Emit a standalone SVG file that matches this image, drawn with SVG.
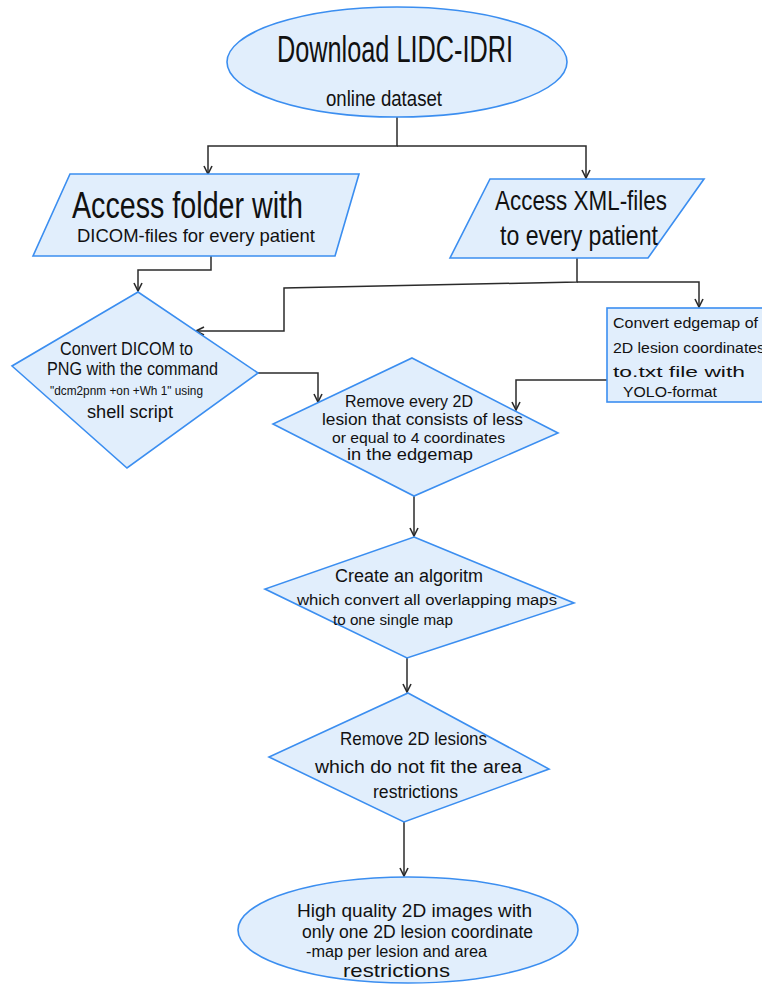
<svg xmlns="http://www.w3.org/2000/svg" width="762" height="985" viewBox="0 0 762 985">
  <style>
    .shape { fill: #e1eefc; stroke: #3b8ef0; stroke-width: 1.6; }
    .wire { fill: none; stroke: #2b2b2b; stroke-width: 1.5; }
    .lbl { font-family: "Liberation Sans", "DejaVu Sans", sans-serif; fill: #111; }
  </style>
  <defs>
    <marker id="arrow" viewBox="0 0 10 10" refX="9" refY="5" markerWidth="10" markerHeight="10" markerUnits="userSpaceOnUse" orient="auto">
      <path d="M1,1 L9,5 L1,9" fill="none" stroke="#2b2b2b" stroke-width="1.6"/>
    </marker>
  </defs>

  <rect width="762" height="985" fill="#ffffff"/>

  <!-- connectors -->
  <g id="connectors" class="wire">
    <path d="M397,117 V146 H208 V174" marker-end="url(#arrow)"/>
    <path d="M397,146 H586 V178" marker-end="url(#arrow)"/>
    <path d="M211,256 V270 H138 V291" marker-end="url(#arrow)"/>
    <path d="M577,258 V282 L284,288 V331 H196" marker-end="url(#arrow)"/>
    <path d="M577,282 H699 V307" marker-end="url(#arrow)"/>
    <path d="M258,373 H318 V402" marker-end="url(#arrow)"/>
    <path d="M607,380 H516 V410" marker-end="url(#arrow)"/>
    <path d="M414,496 V536" marker-end="url(#arrow)"/>
    <path d="M407,658 V692" marker-end="url(#arrow)"/>
    <path d="M404,822 V876" marker-end="url(#arrow)"/>
  </g>

  <!-- start: download dataset -->
  <g id="download">
    <ellipse class="shape" cx="397" cy="62" rx="170" ry="55"/>
    <text class="lbl" x="277" y="62" font-size="36" textLength="236" lengthAdjust="spacingAndGlyphs">Download LIDC-IDRI</text>
    <text class="lbl" x="326" y="106" font-size="22" textLength="116" lengthAdjust="spacingAndGlyphs">online dataset</text>
  </g>

  <!-- input: DICOM folder -->
  <g id="dicom-folder">
    <polygon class="shape" points="70,174 359,174 335,256 33,256"/>
    <text class="lbl" x="72" y="218" font-size="36" textLength="231" lengthAdjust="spacingAndGlyphs">Access folder with</text>
    <text class="lbl" x="77" y="242" font-size="19" textLength="238" lengthAdjust="spacingAndGlyphs">DICOM-files for every patient</text>
  </g>

  <!-- input: XML files -->
  <g id="xml-files">
    <polygon class="shape" points="490,179 704,179 648,258 450,258"/>
    <text class="lbl" x="495" y="210" font-size="28" textLength="172" lengthAdjust="spacingAndGlyphs">Access XML-files</text>
    <text class="lbl" x="500" y="245" font-size="28" textLength="158" lengthAdjust="spacingAndGlyphs">to every patient</text>
  </g>

  <!-- DICOM to PNG conversion -->
  <g id="convert-dicom">
    <polygon class="shape" points="138,292 258,373 127,468 12,366"/>
    <text class="lbl" x="60" y="355" font-size="18" textLength="133" lengthAdjust="spacingAndGlyphs">Convert DICOM to</text>
    <text class="lbl" x="47" y="375" font-size="18" textLength="171" lengthAdjust="spacingAndGlyphs">PNG with the command</text>
    <text class="lbl" x="50" y="395" font-size="12" textLength="153" lengthAdjust="spacingAndGlyphs">"dcm2pnm +on +Wh 1" using</text>
    <text class="lbl" x="87" y="418" font-size="18" textLength="86" lengthAdjust="spacingAndGlyphs">shell script</text>
  </g>

  <!-- edgemap to YOLO conversion -->
  <g id="convert-edgemap">
    <rect class="shape" x="607" y="308" width="162" height="94"/>
    <text class="lbl" x="613" y="328" font-size="15" textLength="145" lengthAdjust="spacingAndGlyphs">Convert edgemap of</text>
    <text class="lbl" x="613" y="353" font-size="15" textLength="152" lengthAdjust="spacingAndGlyphs">2D lesion coordinates</text>
    <text class="lbl" x="613" y="377" font-size="15" textLength="132" lengthAdjust="spacingAndGlyphs">to.txt file with</text>
    <text class="lbl" x="623" y="397" font-size="15" textLength="94" lengthAdjust="spacingAndGlyphs">YOLO-format</text>
  </g>

  <!-- filter small lesions -->
  <g id="remove-small">
    <polygon class="shape" points="412,358 558,433 414,496 273,424"/>
    <text class="lbl" x="345" y="407" font-size="16" textLength="128" lengthAdjust="spacingAndGlyphs">Remove every 2D</text>
    <text class="lbl" x="322" y="425" font-size="16" textLength="201" lengthAdjust="spacingAndGlyphs">lesion that consists of less</text>
    <text class="lbl" x="332" y="443" font-size="15" textLength="173" lengthAdjust="spacingAndGlyphs">or equal to 4 coordinates</text>
    <text class="lbl" x="347" y="460" font-size="16" textLength="126" lengthAdjust="spacingAndGlyphs">in the edgemap</text>
  </g>

  <!-- merge overlapping maps -->
  <g id="merge-maps">
    <polygon class="shape" points="414,537 574,603 407,658 265,589"/>
    <text class="lbl" x="335" y="582" font-size="18" textLength="148" lengthAdjust="spacingAndGlyphs">Create an algoritm</text>
    <text class="lbl" x="297" y="605" font-size="14" textLength="260" lengthAdjust="spacingAndGlyphs">which convert all overlapping maps</text>
    <text class="lbl" x="333" y="625" font-size="15" textLength="120" lengthAdjust="spacingAndGlyphs">to one single map</text>
  </g>

  <!-- area restriction filter -->
  <g id="area-filter">
    <polygon class="shape" points="408,693 549,769 404,822 269,757"/>
    <text class="lbl" x="340" y="745" font-size="19" textLength="147" lengthAdjust="spacingAndGlyphs">Remove 2D lesions</text>
    <text class="lbl" x="315" y="773" font-size="18" textLength="207" lengthAdjust="spacingAndGlyphs">which do not fit the area</text>
    <text class="lbl" x="373" y="798" font-size="18" textLength="85" lengthAdjust="spacingAndGlyphs">restrictions</text>
  </g>

  <!-- end: result images -->
  <g id="result">
    <ellipse class="shape" cx="408" cy="930" rx="170" ry="53"/>
    <text class="lbl" x="297" y="917" font-size="18" textLength="235" lengthAdjust="spacingAndGlyphs">High quality 2D images with</text>
    <text class="lbl" x="302" y="938" font-size="18" textLength="231" lengthAdjust="spacingAndGlyphs">only one 2D lesion coordinate</text>
    <text class="lbl" x="306" y="957" font-size="16" textLength="181" lengthAdjust="spacingAndGlyphs">-map per lesion and area</text>
    <text class="lbl" x="343" y="977" font-size="19" textLength="107" lengthAdjust="spacingAndGlyphs">restrictions</text>
  </g>
</svg>
